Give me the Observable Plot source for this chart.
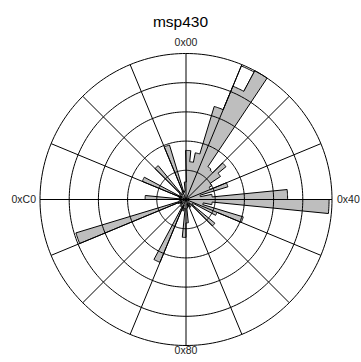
<!DOCTYPE html>
<html><head><meta charset="utf-8">
<script src="https://cdn.jsdelivr.net/npm/d3@7"></script>
<script src="https://cdn.jsdelivr.net/npm/@observablehq/plot@0.6"></script>
<style>
body{margin:0;background:#fff;font-family:"Liberation Sans",Arial,sans-serif;}
#title{height:32px;text-align:center;font-size:15.5px;line-height:16px;padding-top:14px;box-sizing:border-box;color:#000;}
#chart svg{display:block;}
</style></head><body>
<div id="title">msp430</div>
<div id="chart"></div>
<script>
// 64 bins of 4 byte values each (0x00..0xFF), clockwise from top
const binStart = d3.range(0, 256, 4);
const counts = [
  1.68, 1.30, 1.63, 3.33, 4.20, 5.00, 1.35, 1.30,
  1.77, 1.42, 1.00, 0.90, 1.50, 0.50, 0.90, 3.48,
  4.90, 0.90, 0.60, 2.05, 1.15, 0.30, 0.25, 1.28,
  0.20, 0.15, 0.30, 0.20, 0.25, 0.15, 0.30, 0.80,
  1.30, 0.30, 0.40, 0.20, 2.33, 0.25, 0.30, 0.15,
  0.20, 0.25, 0.15, 0.30, 3.94, 0.25, 0.15, 0.20,
  1.40, 0.15, 0.25, 0.20, 1.62, 0.15, 0.25, 0.30,
  1.50, 0.20, 0.25, 0.30, 1.95, 0.25, 0.30, 0.60
];
// a bin whose outline reaches further than its grey fill
const outlineBins = [4];
const outlineValues = [4.95];

const ringValues = [1, 2, 3, 4, 5];
const spokeBytes = d3.range(0, 256, 16);
const tickLabels = ["0x00", "0x40", "0x80", "0xC0"];
const tickBytes = [0, 64, 128, 192];
const title = "msp430";
document.getElementById("title").textContent = title;

const rMax = 5;
const pol = (byte, r) => {
  const t = byte / 256 * 2 * Math.PI;
  return {x: r * Math.sin(t), y: r * Math.cos(t)};
};

// envelope polygon of the histogram
const envelope = [];
binStart.forEach((b, i) => {
  for (let j = 0; j <= 8; j++) envelope.push(pol(b + 4 * j / 8, counts[i]));
});
// outline-only wedges
const outlinePts = [];
outlineBins.forEach((k, i) => {
  const b = binStart[k];
  outlinePts.push({...pol(b, 0), k});
  for (let j = 0; j <= 8; j++) outlinePts.push({...pol(b + 4 * j / 8, outlineValues[i]), k});
  outlinePts.push({...pol(b + 4, 0), k});
});
// rings
const ringPts = [];
ringValues.forEach(r => { for (let d = 0; d < 360; d += 1.5) ringPts.push({...pol(d / 360 * 256, r), r}); });
// spokes
const spokes = spokeBytes.map(b => {
  const p = pol(b, rMax);
  return {x1: 0, y1: 0, x2: p.x, y2: p.y};
});
// labels
const labels = tickLabels.map((t, i) => ({t, ...pol(tickBytes[i], rMax)}));

const u = 29.2, cx = 185.5, cy = 167, W = 361, H = 330;
const chart = Plot.plot({
  width: W, height: H,
  margin: 0,
  x: {domain: [-cx / u, (W - cx) / u], axis: null},
  y: {domain: [-(H - cy) / u, cy / u], axis: null},
  style: {fontFamily: "'Liberation Sans', Arial, sans-serif", background: "#fff"},
  marks: [
    Plot.line(outlinePts, {x: "x", y: "y", z: "k", curve: "linear-closed", fill: "white", stroke: "black", strokeWidth: 1}),
    Plot.line(envelope, {x: "x", y: "y", curve: "linear-closed", fill: "#bebebe", stroke: "black", strokeWidth: 1}),
    Plot.line(ringPts, {x: "x", y: "y", z: "r", curve: "linear-closed", stroke: "black", strokeWidth: 1}),
    Plot.link(spokes, {x1: "x1", y1: "y1", x2: "x2", y2: "y2", stroke: "black", strokeWidth: 1}),
    Plot.text(labels.filter(d => d.t === "0x00"), {x: "x", y: "y", text: "t", dy: -11, fontSize: 10.5, fill: "#222"}),
    Plot.text(labels.filter(d => d.t === "0x80"), {x: "x", y: "y", text: "t", dy: 5.5, fontSize: 10.5, fill: "#222"}),
    Plot.text(labels.filter(d => d.t === "0x40"), {x: "x", y: "y", text: "t", dx: 5, textAnchor: "start", fontSize: 10.5, fill: "#222"}),
    Plot.text(labels.filter(d => d.t === "0xC0"), {x: "x", y: "y", text: "t", dx: -4, textAnchor: "end", fontSize: 10.5, fill: "#222"})
  ]
});
document.getElementById("chart").appendChild(chart);
</script>
</body></html>
